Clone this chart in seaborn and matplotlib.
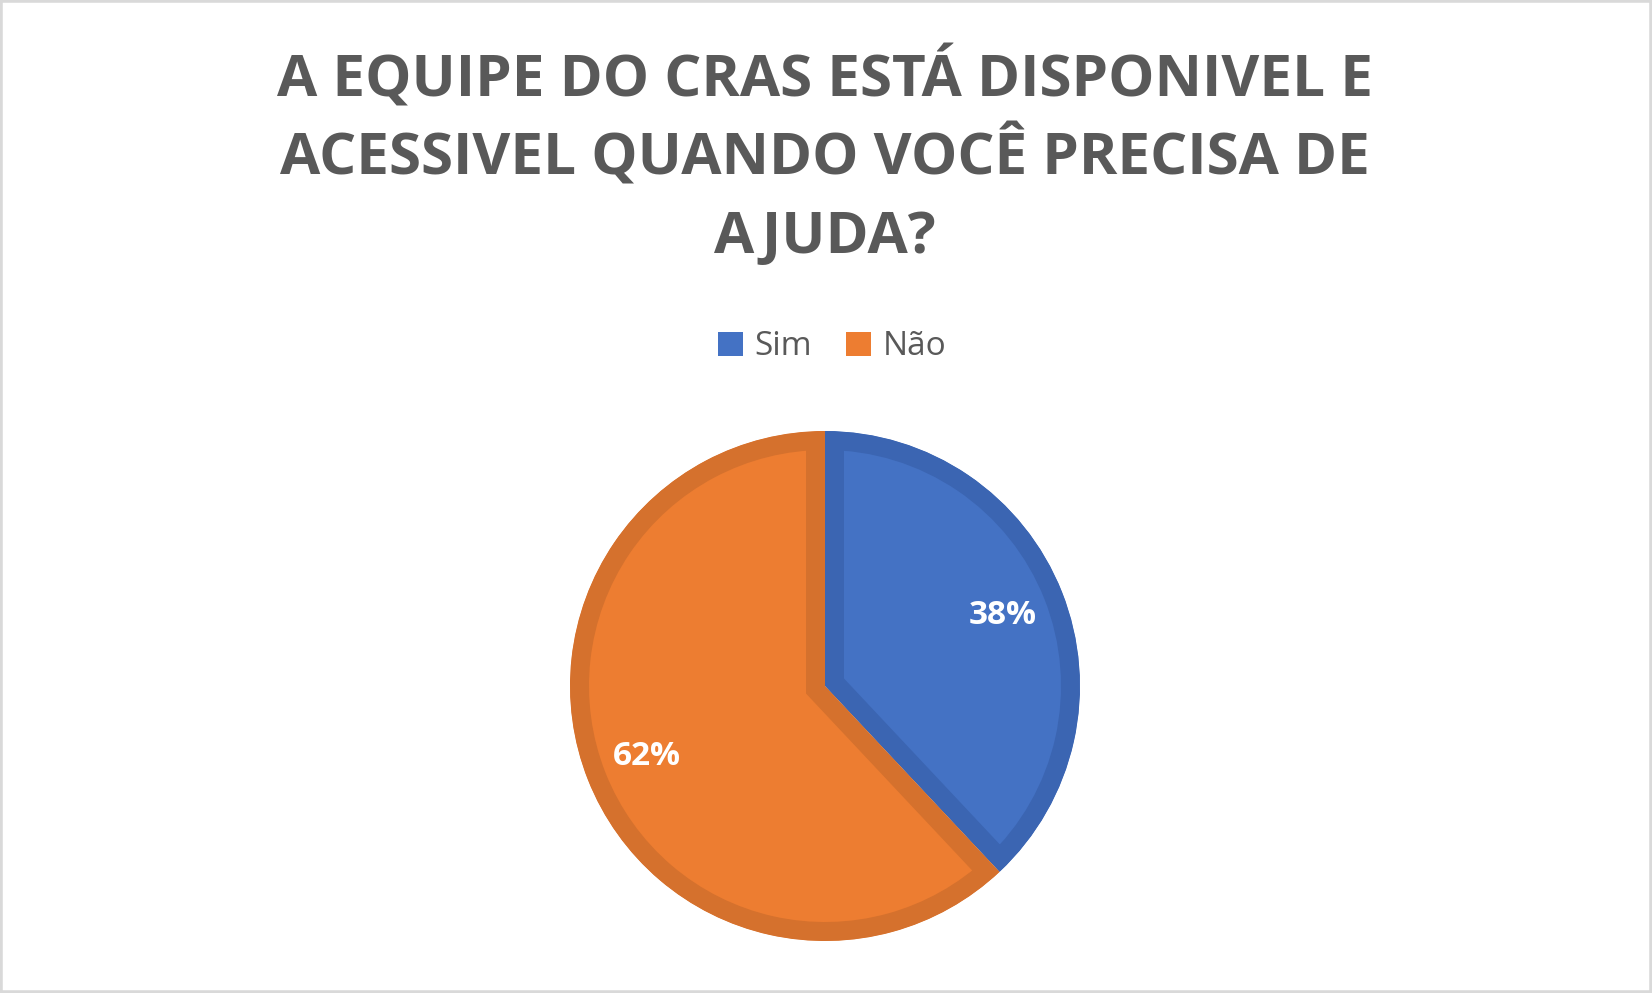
import matplotlib
matplotlib.use("Agg")
import matplotlib.pyplot as plt
from matplotlib.patches import Patch, Rectangle, Wedge
import seaborn as sns

sns.set_theme(style="white")
plt.rcParams['font.family'] = ['Open Sans', 'DejaVu Sans']

categories = ["Sim", "Não"]
values = [38, 62]
title_lines = ["A EQUIPE DO CRAS ESTÁ DISPONIVEL E",
               "ACESSIVEL QUANDO VOCÊ PRECISA DE",
               "AJUDA?"]

face_colors = ["#4472C4", "#ED7D31"]
edge_colors = ["#3B65B2", "#D5712D"]
text_gray = "#595959"

W, H = 1652, 993
fig = plt.figure(figsize=(W / 100, H / 100), dpi=100)
fig.patch.set_facecolor("white")

# pie axes: center (825, 686) px from top-left, radius 255 px
cx, cy, r = 825, 686, 255
ax = fig.add_axes([(cx - r) / W, (H - cy - r) / H, 2 * r / W, 2 * r / H])
wedges, texts, autotexts = ax.pie(
    values, colors=face_colors, startangle=90, counterclock=False,
    autopct=lambda p: f"{p:.0f}%", pctdistance=0.75, radius=1,
    textprops=dict(color="white", fontsize=24, fontweight="bold"))
ax.set_xlim(-1, 1)
ax.set_ylim(-1, 1)
ax.set_aspect("equal")
ax.axis("off")

band_pt = 19 * 72 / 100  # inner border band ~19 px
for w, ec in zip(wedges, edge_colors):
    w.set_edgecolor(ec)
    w.set_linewidth(2 * band_pt)
    w.set_joinstyle("miter")
    clip = Wedge(w.center, w.r, w.theta1, w.theta2, transform=ax.transData)
    w.set_clip_on(True)
    w.set_clip_path(clip)

# title lines
baselines = [97, 175, 253]
for line, b in zip(title_lines, baselines):
    fig.text(825 / W, 1 - b / H, line, ha="center", va="baseline",
             fontsize=42, fontweight="bold", color=text_gray)

# legend
handles = [Patch(facecolor=c, edgecolor="none") for c in face_colors]
leg = fig.legend(handles, categories, loc="center", bbox_to_anchor=(832 / W, 1 - 347 / H),
                 ncol=2, frameon=False, fontsize=24, labelcolor=text_gray,
                 handlelength=0.75, handleheight=0.75, handletextpad=0.35, columnspacing=1.0)

# light gray outer frame
fig.patches.append(Rectangle((0, 0), 1, 1, transform=fig.transFigure, fill=False,
                             edgecolor="#D9D9D9", linewidth=4, zorder=10))

fig.savefig("out.png", dpi=100)
